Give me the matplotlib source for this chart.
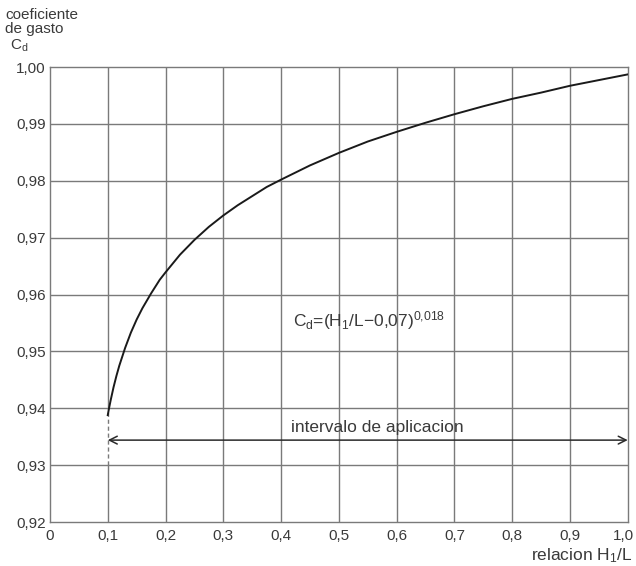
import matplotlib
matplotlib.use("Agg")
import matplotlib.pyplot as plt
import matplotlib.transforms as mtransforms
from matplotlib.ticker import FixedLocator, FixedFormatter

plt.rcParams['font.family'] = ['Liberation Sans', 'DejaVu Sans']
plt.rcParams['mathtext.fontset'] = 'custom'
plt.rcParams['mathtext.rm'] = 'Liberation Sans'
plt.rcParams['mathtext.it'] = 'Liberation Sans'
plt.rcParams['mathtext.bf'] = 'Liberation Sans'

# Curve values
ratio = [0.100, 0.102, 0.105, 0.110, 0.115, 0.120, 0.130, 0.140, 0.150, 0.160,
         0.175, 0.190, 0.200, 0.225, 0.250, 0.275, 0.300, 0.325, 0.350, 0.375,
         0.400, 0.450, 0.500, 0.550, 0.600, 0.650, 0.700, 0.750, 0.800, 0.850,
         0.900, 0.950, 1.000]
cd = [0.9388, 0.9399, 0.9414, 0.9437, 0.9457, 0.9475, 0.9506, 0.9533, 0.9556, 0.9576,
      0.9602, 0.9626, 0.9639, 0.9670, 0.9696, 0.9719, 0.9739, 0.9757, 0.9773, 0.9789,
      0.9802, 0.9827, 0.9849, 0.9869, 0.9886, 0.9902, 0.9917, 0.9931, 0.9944, 0.9955,
      0.9967, 0.9977, 0.9987]

x_ticks = [0, 0.1, 0.2, 0.3, 0.4, 0.5, 0.6, 0.7, 0.8, 0.9, 1.0]
x_labels = ["0", "0,1", "0,2", "0,3", "0,4", "0,5", "0,6", "0,7", "0,8", "0,9", "1,0"]
y_ticks = [0.92, 0.93, 0.94, 0.95, 0.96, 0.97, 0.98, 0.99, 1.00]
y_labels = ["0,92", "0,93", "0,94", "0,95", "0,96", "0,97", "0,98", "0,99", "1,00"]

interval_start, interval_end, interval_y = 0.1, 1.0, 0.9344

txt = '#3a3a3a'
grid_c = '#7a7a7a'
fs = 11

fig = plt.figure(figsize=(6.36, 5.66), dpi=100)
ax = fig.add_axes([0.0786, 0.0777, 0.9084, 0.8039])
ax.set_xlim(0, 1.0)
ax.set_ylim(0.92, 1.00)

# grid lines
for xv in x_ticks[1:-1]:
    if xv == 0.1:
        ax.plot([xv, xv], [0.92, 0.93], color=grid_c, lw=1.0)
        ax.plot([xv, xv], [0.93, 0.94], color=grid_c, lw=1.0, ls=(0, (3, 2)))
        ax.plot([xv, xv], [0.94, 1.00], color=grid_c, lw=1.0)
    else:
        ax.axvline(xv, color=grid_c, lw=1.0)
for yv in y_ticks[1:-1]:
    ax.axhline(yv, color=grid_c, lw=1.0)

for s in ax.spines.values():
    s.set_color(grid_c)
    s.set_linewidth(1.0)

ax.plot(ratio, cd, color='#1a1a1a', lw=1.4, zorder=5)

ax.annotate('', xy=(interval_start, interval_y), xytext=(interval_end, interval_y),
            arrowprops=dict(arrowstyle='<->', color='#2a2a2a', lw=1.1,
                            shrinkA=0, shrinkB=0, mutation_scale=14))
ax.text(0.566, interval_y + 0.0009, 'intervalo de aplicacion', ha='center', va='bottom',
        fontsize=12.5, color=txt)

ax.text(0.42, 0.9555, r'C$_\mathrm{d}$=(H$_1$/L$-$0,07)$^{0{,}018}$', ha='left',
        va='center', fontsize=12.5, color=txt)

ax.xaxis.set_major_locator(FixedLocator(x_ticks))
ax.xaxis.set_major_formatter(FixedFormatter(x_labels))
ax.yaxis.set_major_locator(FixedLocator(y_ticks))
ax.yaxis.set_major_formatter(FixedFormatter(y_labels))
ax.tick_params(axis='both', length=0, labelsize=fs, labelcolor=txt)
ax.tick_params(axis='x', pad=5)
ax.tick_params(axis='y', pad=3)

fig.canvas.draw()
last = ax.get_xticklabels()[-1]
last.set_transform(last.get_transform() +
                   mtransforms.ScaledTranslation(-4 / 100, 0, fig.dpi_scale_trans))

fig.text(0.008, 0.985, 'coeficiente\nde gasto', ha='left', va='top', fontsize=fs,
         color=txt, linespacing=1.0)
fig.text(0.016, 0.905, r'C$_\mathrm{d}$', ha='left', va='bottom', fontsize=fs, color=txt)
fig.text(0.995, 0.001, r'relacion H$_1$/L', ha='right', va='bottom', fontsize=12.5, color=txt)

fig.savefig('out.png', dpi=100, facecolor='white')
